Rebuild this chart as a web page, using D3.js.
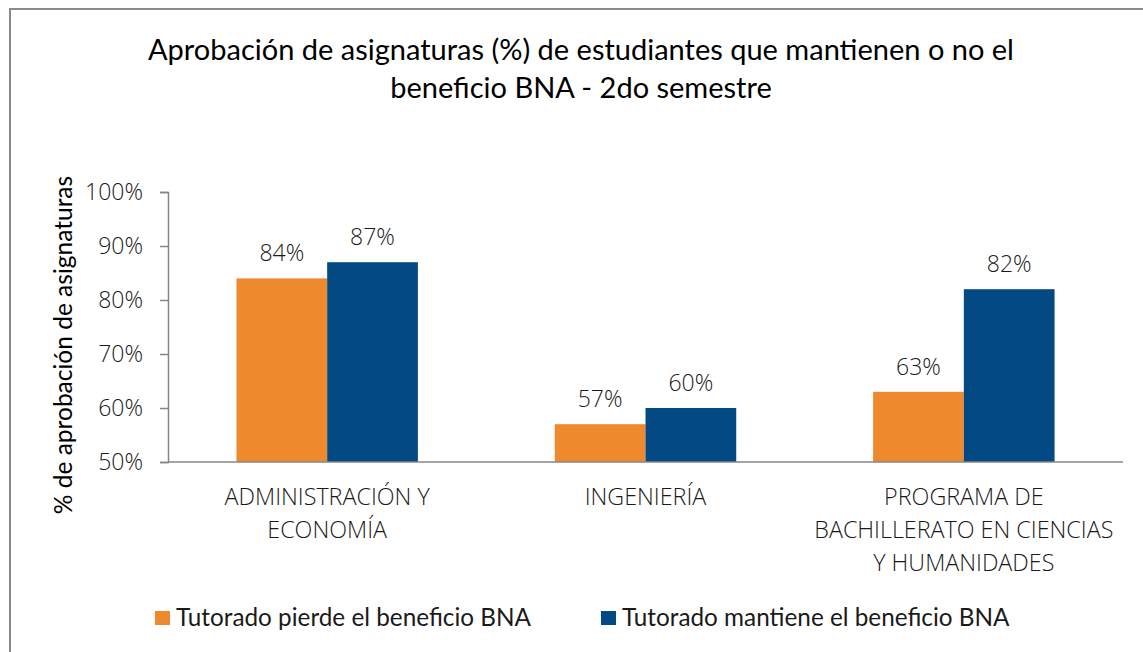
<!DOCTYPE html>
<html>
<head>
<meta charset="utf-8">
<script src="https://cdn.jsdelivr.net/npm/d3@7"></script>
<style>
  body { margin: 0; background: #fff; }
  svg { display: block; }
</style>
</head>
<body>
<svg></svg>
<script>
var width = 1143;
var height = 652;

// data
var categories = [
  ["ADMINISTRACIÓN Y", "ECONOMÍA"],
  ["INGENIERÍA"],
  ["PROGRAMA DE", "BACHILLERATO EN CIENCIAS", "Y HUMANIDADES"]
];
var seriesNames = ["Tutorado pierde el beneficio BNA", "Tutorado mantiene el beneficio BNA"];
var pierde = [84, 57, 63];
var mantiene = [87, 60, 82];
var yTicks = [50, 60, 70, 80, 90, 100];
var colors = ["#EE8A2D", "#034A84"];

var titleLines = ["Aprobación de asignaturas (%) de estudiantes que mantienen o no el",
                  "beneficio BNA - 2do semestre"];
var yTitle = "% de aprobación de asignaturas";

var margin = {left: 168, right: 1123, top: 192, bottom: 462};
var calibri = "Lato, 'Noto Sans', sans-serif";
var segoe = "'Open Sans', 'Noto Sans', sans-serif";

var svg = d3.select('svg')
  .attr('width', width)
  .attr('height', height);

// outer frame
svg.append('rect')
  .attr('x', 10).attr('y', 9)
  .attr('width', width + 20).attr('height', height + 20)
  .attr('fill', 'none')
  .attr('stroke', '#8a8a8a')
  .attr('stroke-width', 2);

var keys = categories.map((c, i) => i);

var x0 = d3.scaleBand()
  .domain(keys)
  .range([margin.left, margin.right])
  .paddingInner(0.43)
  .paddingOuter(0.215);

var x1 = d3.scaleBand()
  .domain([0, 1])
  .range([0, x0.bandwidth()]);

var y = d3.scaleLinear()
  .domain([50, 100])
  .range([margin.bottom, margin.top]);

// y axis
var yAxis = svg.append('g')
  .attr('transform', 'translate(' + margin.left + ',0)')
  .call(d3.axisLeft(y).tickValues(yTicks).tickSize(8).tickPadding(17).tickFormat(d => d + '%'));
yAxis.select('.domain').attr('stroke', '#868686').attr('stroke-width', 1.5);
yAxis.selectAll('.tick line').attr('stroke', '#868686').attr('stroke-width', 1.5);
yAxis.selectAll('.tick text')
  .attr('font-family', segoe)
  .attr('font-weight', 300)
  .attr('font-size', 23)
  .attr('fill', '#1a1a1a');

// bars
var data = keys.map(i => [pierde[i], mantiene[i]]);

var groups = svg.append('g')
  .selectAll('g')
  .data(data)
  .enter()
  .append('g')
    .attr('transform', (d, i) => 'translate(' + x0(i) + ',0)');

groups.selectAll('rect')
  .data(d => d)
  .enter()
  .append('rect')
    .attr('x', (d, j) => x1(j))
    .attr('y', d => y(d))
    .attr('width', x1.bandwidth())
    .attr('height', d => y(50) - y(d))
    .attr('fill', (d, j) => colors[j]);

groups.selectAll('text')
  .data(d => d)
  .enter()
  .append('text')
    .attr('x', (d, j) => x1(j) + x1.bandwidth() / 2)
    .attr('y', d => y(d) - 17)
    .attr('text-anchor', 'middle')
    .attr('font-family', segoe)
    .attr('font-weight', 300)
    .attr('font-size', 23)
    .attr('fill', '#1a1a1a')
    .text(d => d + '%');

// x baseline
svg.append('line')
  .attr('x1', margin.left).attr('x2', margin.right)
  .attr('y1', y(50)).attr('y2', y(50))
  .attr('stroke', '#868686')
  .attr('stroke-width', 1.5);

// category labels
categories.forEach((lines, i) => {
  var t = svg.append('text')
    .attr('text-anchor', 'middle')
    .attr('font-family', segoe)
    .attr('font-weight', 300)
    .attr('font-size', 23.3)
    .attr('fill', '#1a1a1a');
  lines.forEach((l, k) => {
    t.append('tspan')
      .attr('x', x0(i) + x0.bandwidth() / 2)
      .attr('y', 505 + k * 33)
      .text(l);
  });
});

// title
titleLines.forEach((l, k) => {
  svg.append('text')
    .attr('x', 581)
    .attr('y', 60 + k * 38)
    .attr('text-anchor', 'middle')
    .attr('font-family', calibri)
    .attr('font-size', 29)
    .attr('fill', '#000')
    .text(l);
});

// y axis title
svg.append('text')
  .attr('transform', 'translate(72,345) rotate(-90)')
  .attr('text-anchor', 'middle')
  .attr('font-family', calibri)
  .attr('font-size', 24.5)
  .attr('fill', '#000')
  .text(yTitle);

// legend
var legendX = [155, 601];
var legend = svg.append('g')
  .selectAll('g')
  .data(seriesNames)
  .enter()
  .append('g')
    .attr('transform', (d, i) => 'translate(' + legendX[i] + ',611)');

legend.append('rect')
  .attr('width', 15)
  .attr('height', 14)
  .attr('fill', (d, i) => colors[i]);

legend.append('text')
  .attr('x', 21)
  .attr('y', 15)
  .attr('font-family', calibri)
  .attr('font-size', 24.3)
  .attr('fill', '#1a1a1a')
  .text(d => d);
</script>
</body>
</html>
